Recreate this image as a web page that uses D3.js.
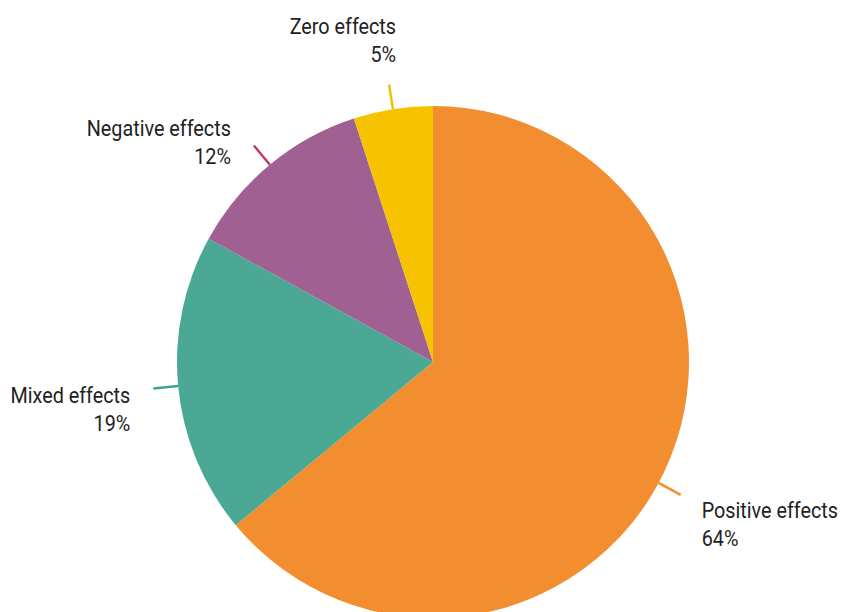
<!DOCTYPE html>
<html>
<head>
<meta charset="utf-8">
<script src="https://cdn.jsdelivr.net/npm/d3@7"></script>
<style>
  html, body { margin: 0; padding: 0; background: #fff; }
  svg { display: block; }
  text { font-family: Roboto, "Noto Sans", sans-serif; fill: #222; }
</style>
</head>
<body>
<svg id="chart" width="841" height="612"></svg>
<script>
// Share of study outcomes by effect type
const categories = ["Positive effects", "Mixed effects", "Negative effects", "Zero effects"];
const shares = [64, 19, 12, 5];
const percentLabels = ["64%", "19%", "12%", "5%"];

const sliceColors = ["#f28e30", "#4aa894", "#a06192", "#f5c300"];
const leaderColors = ["#f28e30", "#3fa28c", "#c23a62", "#f2c200"];

// Label placement tweaks (angle shift of the leader in degrees, text offset from leader end)
const labelLayout = {
  "Positive effects": { shift: 3, dx: 21, dy: 23, anchor: "start" },
  "Mixed effects":    { shift: 0, dx: -23, dy: 15, anchor: "end" },
  "Negative effects": { shift: 0, dx: -23, dy: -9, anchor: "end" },
  "Zero effects":     { shift: 0, dx: 7, dy: -50, anchor: "end" }
};

const width = 841, height = 612;
const cx = 433, cy = 362, radius = 256;
const leaderInner = radius, leaderOuter = radius + 25;
const lineGap = 28;

const svg = d3.select("#chart");
const g = svg.append("g").attr("transform", `translate(${cx},${cy})`);

const data = categories.map((c, i) => ({
  name: c, value: shares[i], label: percentLabels[i],
  color: sliceColors[i], leader: leaderColors[i]
}));

const pie = d3.pie().value(d => d.value).sort(null);
const arc = d3.arc().innerRadius(0).outerRadius(radius);
const arcs = pie(data);

g.selectAll("path.slice")
  .data(arcs)
  .join("path")
  .attr("class", "slice")
  .attr("d", arc)
  .attr("fill", d => d.data.color);

// Leader lines and labels
arcs.forEach(a => {
  const lay = labelLayout[a.data.name];
  const mid = (a.startAngle + a.endAngle) / 2 + lay.shift * Math.PI / 180;
  const sx = Math.sin(mid), sy = -Math.cos(mid);
  const x1 = leaderInner * sx, y1 = leaderInner * sy;
  const x2 = leaderOuter * sx, y2 = leaderOuter * sy;

  g.append("line")
    .attr("x1", x1).attr("y1", y1)
    .attr("x2", x2).attr("y2", y2)
    .attr("stroke", a.data.leader)
    .attr("stroke-width", 2.5);

  const tx = x2 + lay.dx, ty = y2 + lay.dy;
  const t = g.append("text")
    .attr("transform", `translate(${tx},${ty}) scale(0.9,1)`)
    .attr("text-anchor", lay.anchor)
    .attr("font-size", 22);
  t.append("tspan").attr("x", 0).attr("y", 0).text(a.data.name);
  t.append("tspan").attr("x", 0).attr("y", lineGap).text(a.data.label);
});
</script>
</body>
</html>
